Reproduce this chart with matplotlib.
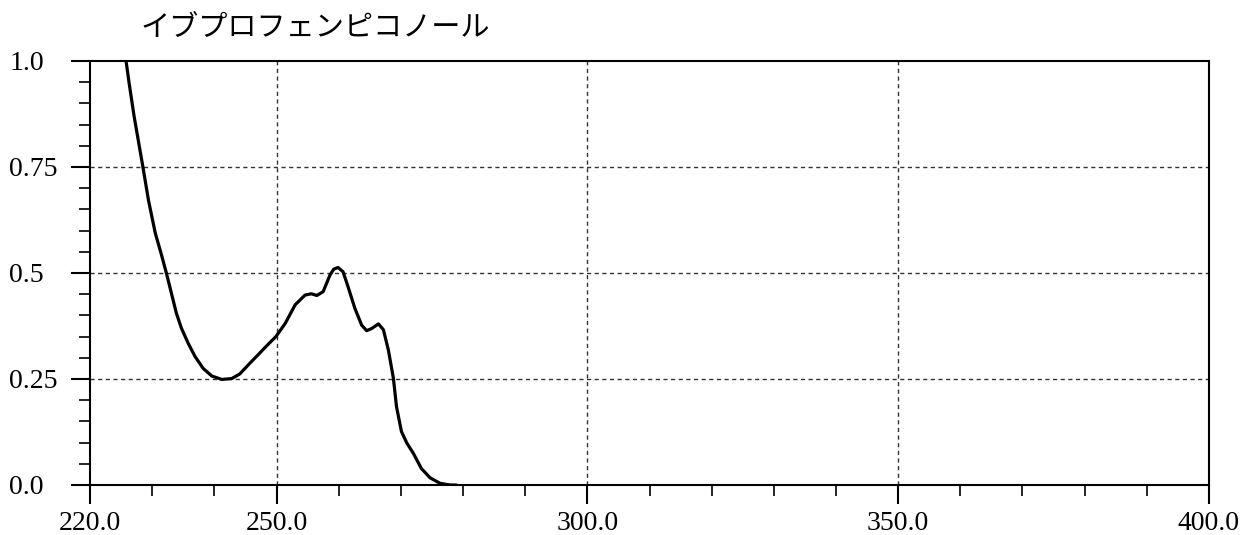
import matplotlib
matplotlib.use("Agg")
import matplotlib.pyplot as plt
from matplotlib.ticker import MultipleLocator, FixedLocator

# spectrum (wavelength nm, absorbance)
wavelength = [225.8, 226.3, 227.1, 228.5, 229.4, 230.5, 231.4, 232.3, 233.1, 233.9,
              234.7, 235.8, 236.9, 238.2, 239.6, 241.2, 242.8, 244.1, 245.7, 247.3,
              248.4, 249.9, 251.4, 253.0, 254.6, 255.6, 256.5, 257.5, 258.6, 259.2,
              259.9, 260.7, 261.5, 262.6, 263.7, 264.5, 265.3, 266.4, 267.2, 268.0,
              268.8, 269.3, 270.1, 271.0, 272.0, 273.3, 274.7, 276.3, 277.9, 278.9]
absorbance = [1.0, 0.947, 0.869, 0.751, 0.672, 0.594, 0.548, 0.499, 0.452, 0.405,
              0.370, 0.334, 0.303, 0.275, 0.257, 0.249, 0.251, 0.262, 0.287, 0.311,
              0.328, 0.350, 0.381, 0.425, 0.448, 0.451, 0.447, 0.456, 0.495, 0.509,
              0.513, 0.503, 0.468, 0.417, 0.377, 0.364, 0.369, 0.380, 0.366, 0.318,
              0.252, 0.185, 0.126, 0.098, 0.075, 0.039, 0.017, 0.004, 0.0, 0.0]

x_major = [220, 250, 300, 350, 400]
x_labels = ["220.0", "250.0", "300.0", "350.0", "400.0"]
y_major = [0.0, 0.25, 0.5, 0.75, 1.0]
y_labels = ["0.0", "0.25", "0.5", "0.75", "1.0"]
title = "イブプロフェンピコノール"

fig = plt.figure(figsize=(12.42, 5.35), dpi=100)
ax = fig.add_axes([90 / 1242, 1 - 485 / 535, (1209 - 90) / 1242, (485 - 61) / 535])

ax.plot(wavelength, absorbance, color="black", lw=2.3,
        solid_capstyle="round", solid_joinstyle="round")

ax.set_xlim(220, 400)
ax.set_ylim(0, 1.0)

# dotted grid only at the inner major positions
for xv in x_major[1:-1]:
    ax.axvline(xv, color="#333333", lw=1.0, ls=(0, (3, 2.5)), zorder=0)
for yv in y_major[1:-1]:
    ax.axhline(yv, color="#333333", lw=1.0, ls=(0, (3, 2.5)), zorder=0)

ax.xaxis.set_major_locator(FixedLocator(x_major))
ax.xaxis.set_minor_locator(MultipleLocator(10))
ax.yaxis.set_major_locator(FixedLocator(y_major))
ax.yaxis.set_minor_locator(MultipleLocator(0.05))
ax.set_xticklabels(x_labels)
ax.set_yticklabels(y_labels)

for sp in ax.spines.values():
    sp.set_linewidth(1.5)

ax.tick_params(axis="both", which="major", direction="out", length=14, width=1.5)
ax.tick_params(axis="both", which="minor", direction="out", length=8, width=1.2)
ax.tick_params(axis="x", which="major", pad=5)
ax.tick_params(axis="y", which="major", pad=44)

for lbl in ax.get_xticklabels() + ax.get_yticklabels():
    lbl.set_fontfamily("Liberation Serif")
    lbl.set_fontsize(20)
for lbl in ax.get_yticklabels():
    lbl.set_horizontalalignment("left")
    lbl.set_verticalalignment("center_baseline")

fig.text(140 / 1242, 1 - 28 / 535, title, fontsize=21,
         family=["Noto Sans CJK JP", "DejaVu Sans"], va="center", ha="left")

fig.savefig("out.png", dpi=100)
